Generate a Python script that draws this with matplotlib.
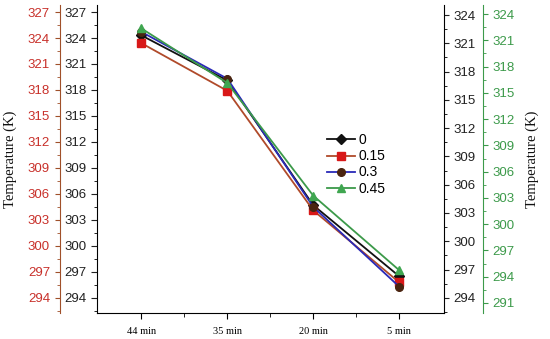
import matplotlib
matplotlib.use('Agg')
import matplotlib.pyplot as plt
from matplotlib.ticker import MultipleLocator, FixedLocator

# dados
tempos = ['44 min', '35 min', '20 min', '5 min']
series = ['0', '0.15', '0.3', '0.45']
t_0 = [324.3, 319.1, 304.7, 296.5]
t_015 = [323.4, 317.9, 304.1, 295.8]
t_03 = [324.7, 319.3, 304.5, 295.3]
t_045 = [325.1, 318.8, 305.8, 297.2]

valores = [t_0, t_015, t_03, t_045]
cores_linha = ['#111111', '#b04a2a', '#2a2ab8', '#3c9a4a']
cores_marc = ['#111111', '#d81818', '#4a2410', '#3fa650']
marcadores = ['D', 's', 'o', '^']

serif = ['Liberation Serif', 'DejaVu Serif']
sans = ['Liberation Sans', 'DejaVu Sans']
vermelho = '#c8302a'
verde = '#3c9a4a'

fig = plt.figure(figsize=(5.5, 3.39), dpi=100)
ax = fig.add_axes([0.176, 0.077, 0.631, 0.908])

x = list(range(1, len(tempos) + 1))
for vals, nome, cl, cm, mk in zip(valores, series, cores_linha, cores_marc, marcadores):
    ax.plot(x, vals, color=cl, lw=1.3, marker=mk, markersize=5.5,
            markerfacecolor=cm, markeredgecolor=cm, label=nome)

ax.set_xlim(0.48, 4.52)
ax.set_ylim(292.27, 327.8)
ax.set_xticks(x)
ax.set_xticklabels(tempos, fontfamily=serif, fontsize=7.5)
ax.xaxis.set_minor_locator(FixedLocator([1.5, 2.5, 3.5]))
ax.yaxis.set_major_locator(MultipleLocator(3))
ax.yaxis.set_minor_locator(MultipleLocator(1.5))
ax.spines['top'].set_visible(False)
ax.spines['right'].set_visible(False)
ax.tick_params(axis='y', labelsize=9.5, colors='#222222', direction='out', length=4)
ax.tick_params(axis='y', which='minor', length=2)
ax.tick_params(axis='x', direction='out', length=4, pad=6)
ax.tick_params(axis='x', which='minor', length=3)
for lab in ax.get_yticklabels():
    lab.set_fontfamily(sans)

# eixo vermelho (esquerda, externo)
ax_red = ax.twinx()
ax_red.set_ylim(292.27, 327.8)
ax_red.spines['left'].set_position(('axes', -0.107))
ax_red.spines['left'].set_visible(True)
ax_red.spines['left'].set_color('#a0502a')
ax_red.spines['right'].set_visible(False)
ax_red.spines['top'].set_visible(False)
ax_red.spines['bottom'].set_visible(False)
ax_red.yaxis.set_ticks_position('left')
ax_red.yaxis.set_label_position('left')
ax_red.yaxis.set_major_locator(MultipleLocator(3))
ax_red.yaxis.set_minor_locator(MultipleLocator(1.5))
ax_red.tick_params(axis='y', which='both', colors='#a0502a', labelcolor=vermelho, labelsize=9.5)
ax_red.tick_params(axis='y', which='minor', length=2)
for lab in ax_red.get_yticklabels():
    lab.set_fontfamily(sans)
ax_red.set_ylabel('Temperature (K)', fontfamily=serif, fontsize=10.5, color='#111111', labelpad=8)

# eixo preto (direita, interno)
ax_r = ax.twinx()
ax_r.set_ylim(292.4, 325.06)
ax_r.spines['top'].set_visible(False)
ax_r.spines['bottom'].set_visible(False)
ax_r.spines['left'].set_visible(False)
ax_r.yaxis.set_major_locator(MultipleLocator(3))
ax_r.yaxis.set_minor_locator(MultipleLocator(1.5))
ax_r.tick_params(axis='y', labelsize=9.5, colors='#222222')
ax_r.tick_params(axis='y', which='minor', length=2)
for lab in ax_r.get_yticklabels():
    lab.set_fontfamily(sans)

# eixo verde (direita, externo)
ax_g = ax.twinx()
ax_g.set_ylim(289.86, 325.03)
ax_g.spines['right'].set_position(('axes', 1.112))
ax_g.spines['right'].set_color(verde)
ax_g.spines['top'].set_visible(False)
ax_g.spines['bottom'].set_visible(False)
ax_g.spines['left'].set_visible(False)
ax_g.yaxis.set_major_locator(MultipleLocator(3))
ax_g.yaxis.set_minor_locator(MultipleLocator(1.5))
ax_g.tick_params(axis='y', which='both', colors=verde, labelsize=9.5)
ax_g.tick_params(axis='y', which='minor', length=2)
for lab in ax_g.get_yticklabels():
    lab.set_fontfamily(sans)
ax_g.set_ylabel('Temperature (K)', fontfamily=serif, fontsize=10.5, color='#111111',
                rotation=90, labelpad=8)

leg = ax.legend(loc='upper left', bbox_to_anchor=(0.635, 0.615), frameon=False,
                prop={'family': sans, 'size': 10}, handlelength=2.0,
                handletextpad=0.3, labelspacing=0.15, borderpad=0.2)

fig.savefig('out.png', dpi=100)
